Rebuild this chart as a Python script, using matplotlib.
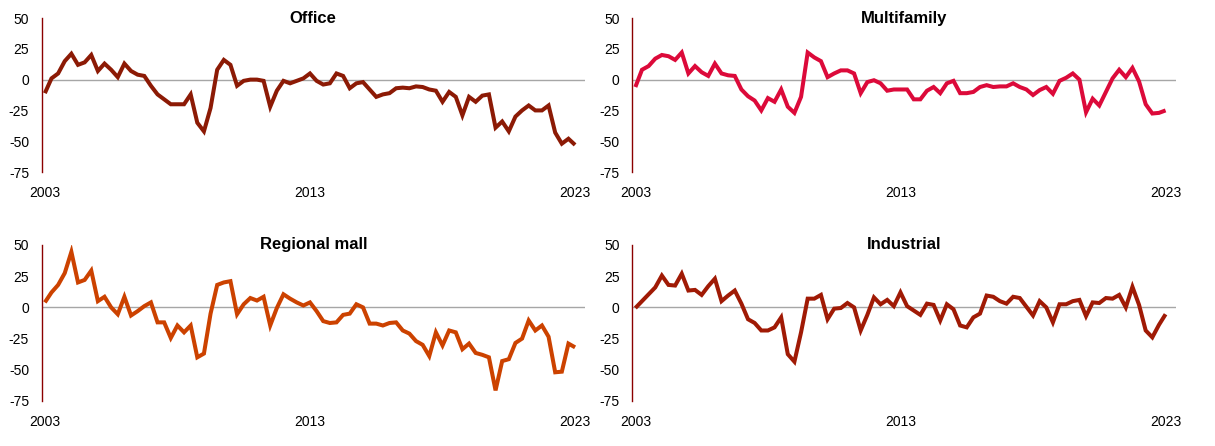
import matplotlib
matplotlib.use("Agg")
import matplotlib.pyplot as plt

plt.rcParams['font.family'] = ['Liberation Sans', 'DejaVu Sans']

quarters = list(range(81))
tick_positions = [0, 40, 80]
tick_labels = ["2003", "2013", "2023"]
y_ticks = [50, 25, 0, -25, -50, -75]

office = [-11, 1, 5, 15, 21, 12, 14, 20, 7, 13,
          8, 2, 13, 7, 4, 3, -5, -12, -16, -20,
          -20, -20, -12, -35, -42, -23, 8, 16, 12, -5,
          -1, 0, 0, -1, -22, -9, -1, -3, -1, 1,
          5, -1, -4, -3, 5, 3, -7, -3, -2, -8,
          -14, -12, -11, -7, -6.5, -7, -5.5, -6, -8, -9,
          -18, -10, -14, -29, -14, -18, -13, -12, -39, -34,
          -42, -30, -25, -21, -25, -25, -21, -43, -52, -48, -53]

multifamily = [-6, 8, 11, 17, 20, 19, 16, 22, 5, 11,
               6, 3, 13, 5, 3.5, 3, -8, -13.5, -17, -25,
               -15, -18, -8, -22, -27, -14, 22, 18, 15, 2,
               5, 7.5, 7.5, 5, -11, -2, -0.5, -3, -9, -8,
               -8, -8, -16, -16, -9, -6, -11, -3, -1, -11,
               -11, -10, -6, -4.5, -6, -5.5, -5.5, -3, -6, -8,
               -12.5, -8.5, -6, -11.5, -1, 1.5, 5, 0, -26.5, -15.5,
               -21, -10, 1, 8, 2, 9.5, -1.5, -20, -27.5, -27, -25]

regional_mall = [4, 12, 18, 27.5, 44.5, 20, 22, 29.5, 5, 8.5,
                 0, -5.5, 8.5, -6.5, -3, 1, 4, -12, -12, -24.5,
                 -14.5, -20, -14.5, -40, -37, -5, 18, 20, 21, -5.5,
                 2.5, 7.5, 5.5, 8.5, -14.5, -0.5, 10.5, 7, 4, 1.5,
                 4, -3, -11, -12.5, -12, -6, -5, 2.5, 0, -13,
                 -13, -14.5, -12.5, -12, -18.5, -21, -27, -30, -39, -20,
                 -30.5, -18.5, -20, -33.5, -29, -36.5, -38, -40, -66.5, -43,
                 -41.5, -28.5, -25, -10.5, -18.5, -14.5, -23.5, -52, -51.5, -29, -32]

industrial = [-0.5, 5, 10.5, 16, 25.5, 18, 17.5, 27, 13.5, 14,
              10, 17, 23, 5, 9.5, 13.5, 3, -9.5, -12.5, -18.5,
              -18.5, -16, -8, -37.5, -43.5, -20, 7, 7, 10, -9.5,
              -1, -0.5, 3.5, 0, -18.5, -6, 8, 2.5, 6, 1,
              12, 1, -2.5, -6, 3, 2, -10.5, 2.5, -1.5, -14.5,
              -16, -8, -5, 9.5, 8.5, 5, 3, 8.5, 7.5, 0.5,
              -6.5, 5, 0, -12, 2.5, 2.5, 5, 6, -7, 4,
              3.5, 7.5, 7, 10, 0, 16.5, 2, -18.5, -24, -14, -5.5]

panels = [
    ("Office", office, "#8C1A05", [0.0342, 0.6143, 0.4473, 0.3453]),
    ("Multifamily", multifamily, "#DC0A3A", [0.5202, 0.6143, 0.4473, 0.3453]),
    ("Regional mall", regional_mall, "#CC4200", [0.0342, 0.1009, 0.4473, 0.3498]),
    ("Industrial", industrial, "#A01A05", [0.5202, 0.1009, 0.4473, 0.3498]),
]

fig = plt.figure(figsize=(12.15, 4.46), dpi=100)

for title, values, color, rect in panels:
    ax = fig.add_axes(rect)
    ax.axhline(0, color="#A6A6A6", lw=1.0, zorder=1)
    ax.plot(quarters, values, color=color, lw=2.9, zorder=3,
            solid_joinstyle="miter", solid_capstyle="butt")
    ax.set_xlim(-0.5, 81.5)
    ax.set_ylim(-75, 50)
    ax.set_yticks(y_ticks)
    ax.set_yticklabels([str(v) for v in y_ticks])
    ax.set_xticks(tick_positions)
    ax.set_xticklabels(tick_labels)
    for s in ["top", "right", "bottom"]:
        ax.spines[s].set_visible(False)
    ax.spines["left"].set_color("#8B0000")
    ax.spines["left"].set_linewidth(1.0)
    ax.tick_params(axis="both", length=0, labelsize=10, colors="#000000")
    ax.tick_params(axis="y", pad=9)
    ax.tick_params(axis="x", pad=10)
    ax.set_facecolor("none")
    ax.text(0.5, 1.0, title, transform=ax.transAxes, ha="center", va="center",
            fontsize=12, fontweight="bold", color="#000000")

fig.savefig("out.png", dpi=100, facecolor="white")
